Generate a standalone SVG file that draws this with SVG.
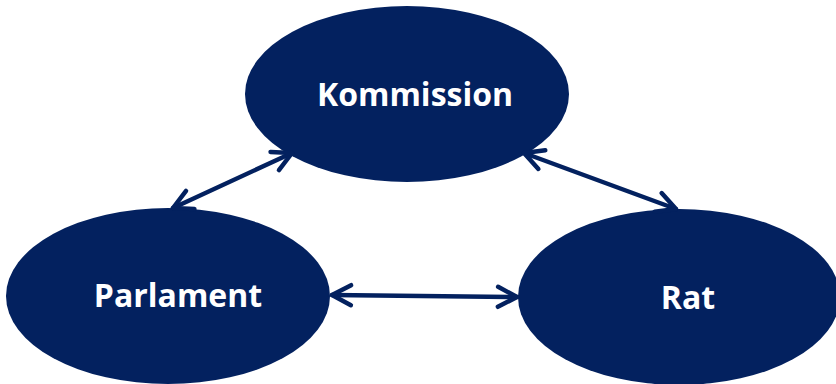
<svg xmlns="http://www.w3.org/2000/svg" width="836" height="384" viewBox="0 0 836 384">
<style>
.node{fill:#03215f}
.lbl{fill:#fff;font-family:"Open Sans","Liberation Sans",sans-serif;font-weight:bold;font-size:32px;text-anchor:middle}
.conn{stroke:#03215f;stroke-width:4.5;fill:none;stroke-linecap:round;marker-start:url(#ah);marker-end:url(#ah)}
</style>
<defs>
<marker id="ah" markerUnits="userSpaceOnUse" viewBox="-24 -14 28 28" markerWidth="28" markerHeight="28" refX="0" refY="0" orient="auto-start-reverse" overflow="visible">
<path d="M -19 -10 L 0 0 L -19 10" fill="none" stroke="#03215f" stroke-width="4.5" stroke-linecap="round" stroke-linejoin="round"/>
</marker>
</defs>
<g id="kommission"><ellipse class="node" cx="407" cy="94" rx="162" ry="88"/><text class="lbl" x="415" y="106">Kommission</text></g>
<g id="parlament"><ellipse class="node" cx="168" cy="296" rx="162" ry="88"/><text class="lbl" x="178" y="307">Parlament</text></g>
<g id="rat"><ellipse class="node" cx="679" cy="297" rx="161" ry="88"/><text class="lbl" x="688" y="309">Rat</text></g>
<g id="connectors">
<line class="conn" x1="173" y1="208" x2="292" y2="153"/>
<line class="conn" x1="524" y1="153" x2="676" y2="209"/>
<line class="conn" x1="332" y1="295" x2="517" y2="297"/>
</g>
</svg>
